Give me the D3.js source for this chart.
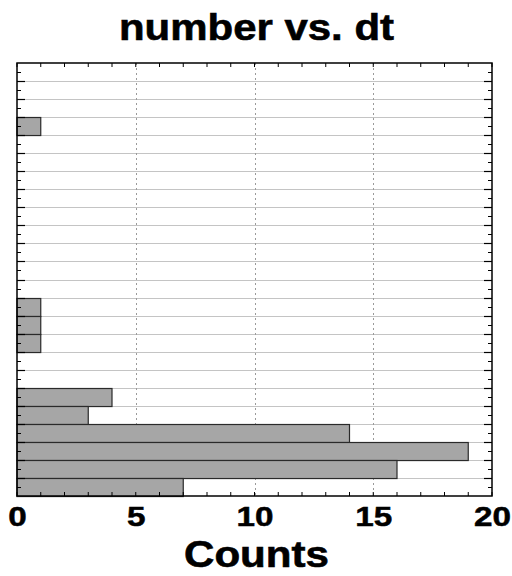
<!DOCTYPE html>
<html>
<head>
<meta charset="utf-8">
<script src="https://cdn.jsdelivr.net/npm/d3@7"></script>
<style>
  html, body { margin: 0; padding: 0; background: #fff; }
  svg { display: block; }
</style>
</head>
<body>
<script>
// Histogram bins of dt, listed top to bottom, with their counts
const bins = d3.range(24).map(i => "bin" + i);
const counts = [0, 0, 0, 1, 0, 0, 0, 0, 0, 0, 0, 0, 0, 1, 1, 1, 0, 0, 4, 3, 14, 19, 16, 7];
const xTickValues = [0, 5, 10, 15, 20];
const xMinorValues = d3.range(0, 21, 1);
const titleText = "number vs. dt";
const xLabelText = "Counts";

const W = 512, H = 576;
const m = { left: 17, right: 20, top: 63, bottom: 80 };
const iw = W - m.left - m.right, ih = H - m.top - m.bottom;
const FONT = "Liberation Sans, Arial, sans-serif";

const svg = d3.select("body").append("svg").attr("width", W).attr("height", H);

const x = d3.scaleLinear().domain([0, 20]).range([m.left, m.left + iw]);
const y = d3.scaleBand().domain(bins).range([m.top, m.top + ih]).padding(0);
const yPos = d3.scaleLinear().domain([0, bins.length]).range([m.top, m.top + ih]);

// horizontal row separators
svg.append("g").selectAll("line").data(d3.range(1, bins.length)).join("line")
  .attr("x1", m.left).attr("x2", m.left + iw)
  .attr("y1", d => Math.round(yPos(d)) + 0.5).attr("y2", d => Math.round(yPos(d)) + 0.5)
  .attr("stroke", "#c4c4c4").attr("stroke-width", 1);

// vertical dotted grid
svg.append("g").selectAll("line").data(xTickValues.slice(1, -1)).join("line")
  .attr("x1", d => Math.round(x(d)) + 0.5).attr("x2", d => Math.round(x(d)) + 0.5)
  .attr("y1", m.top).attr("y2", m.top + ih)
  .attr("stroke", "#9a9a9a").attr("stroke-width", 1).attr("stroke-dasharray", "2,3");

// bars
svg.append("g").selectAll("rect").data(bins.map((b, i) => ({ b, v: counts[i] })).filter(d => d.v > 0)).join("rect")
  .attr("x", x(0))
  .attr("y", d => Math.round(y(d.b)) + 0.5)
  .attr("width", d => x(d.v) - x(0))
  .attr("height", y.bandwidth())
  .attr("fill", "#a6a6a6")
  .attr("stroke", "#2a2a2a").attr("stroke-width", 1.2);

// x axis labels (bottom), wide bold digits
const xb = svg.append("g").attr("transform", `translate(0,${m.top + ih})`)
  .call(d3.axisBottom(x).tickValues(xTickValues).tickSize(0).tickPadding(10).tickFormat(d3.format("d")));
xb.select(".domain").remove();
xb.selectAll("text").attr("font-family", FONT)
  .attr("font-weight", "bold").attr("font-size", 28).attr("fill", "#000")
  .attr("stroke", "#000").attr("stroke-width", 0.5)
  .attr("textLength", d => String(d).length * 18.5).attr("lengthAdjust", "spacingAndGlyphs");

// x ticks on bottom and top edges
svg.append("g").selectAll("line").data(xMinorValues).join("line")
  .attr("x1", d => x(d)).attr("x2", d => x(d))
  .attr("y1", m.top + ih).attr("y2", m.top + ih - 4)
  .attr("stroke", "#000").attr("stroke-width", 1);
svg.append("g").selectAll("line").data(xMinorValues).join("line")
  .attr("x1", d => x(d)).attr("x2", d => x(d))
  .attr("y1", m.top).attr("y2", m.top + 4)
  .attr("stroke", "#000").attr("stroke-width", 1);

// y ticks: long at row edges, short at row centres, both sides
const yMajor = d3.range(1, bins.length);
const yMinor = d3.range(0, bins.length).map(i => i + 0.5);
[[m.left, 1], [m.left + iw, -1]].forEach(([x0, dir]) => {
  svg.append("g").selectAll("line").data(yMajor).join("line")
    .attr("x1", x0).attr("x2", x0 + dir * 8)
    .attr("y1", d => Math.round(yPos(d)) + 0.5).attr("y2", d => Math.round(yPos(d)) + 0.5)
    .attr("stroke", "#000").attr("stroke-width", 1.2);
  svg.append("g").selectAll("line").data(yMinor).join("line")
    .attr("x1", x0).attr("x2", x0 + dir * 4)
    .attr("y1", d => Math.round(yPos(d)) + 0.5).attr("y2", d => Math.round(yPos(d)) + 0.5)
    .attr("stroke", "#000").attr("stroke-width", 1);
});

// frame
svg.append("rect").attr("x", m.left).attr("y", m.top).attr("width", iw).attr("height", ih)
  .attr("fill", "none").attr("stroke", "#000").attr("stroke-width", 1.5);

// title and axis label
svg.append("text").attr("x", 256.5).attr("y", 40).attr("text-anchor", "middle")
  .attr("font-family", FONT).attr("font-weight", "bold")
  .attr("font-size", 37).attr("fill", "#000")
  .attr("stroke", "#000").attr("stroke-width", 0.6)
  .attr("textLength", 275).attr("lengthAdjust", "spacingAndGlyphs")
  .text(titleText);
svg.append("text").attr("x", 256.5).attr("y", 567).attr("text-anchor", "middle")
  .attr("font-family", FONT).attr("font-weight", "bold")
  .attr("font-size", 37).attr("fill", "#000")
  .attr("stroke", "#000").attr("stroke-width", 0.6)
  .attr("textLength", 145).attr("lengthAdjust", "spacingAndGlyphs")
  .text(xLabelText);
</script>
</body>
</html>
